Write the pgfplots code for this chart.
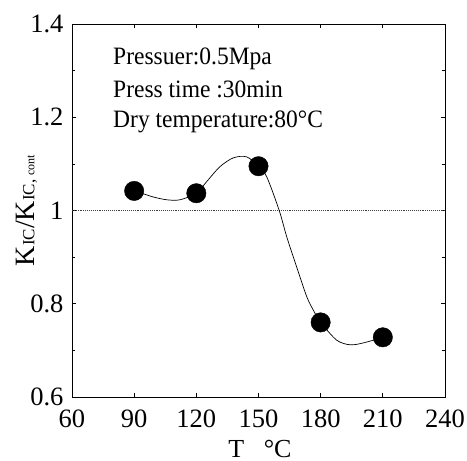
\documentclass[border=0pt]{standalone}
\usepackage{fontspec}
\setmainfont{Liberation Serif}
\newfontfamily\notefont{Liberation Serif}[FakeStretch=0.94]
\usepackage{pgfplots}
\pgfplotsset{compat=1.18}

\pgfplotstableread{
T    r
90   1.042
120  1.037
150  1.095
180  0.760
210  0.728
}\points

% curve
\pgfplotstableread{
T      r
90     1.042
95     1.035
99.2   1.029
105.7  1.023
112.1  1.023
120    1.037
125    1.062
131.4  1.094
137.9  1.113
144.3  1.115
150    1.095
154    1.072
160    1.000
163.6  0.944
168.4  0.879
173.3  0.815
176.5  0.786
180    0.760
187.7  0.722
194.2  0.712
200.6  0.716
210    0.728
}\curve

\begin{document}
\begin{tikzpicture}
\useasboundingbox (-72pt,-64pt) rectangle (395pt,397pt);
\begin{axis}[
    at={(0,0)}, anchor=south west,
    scale only axis,
    width=373pt, height=373pt,
    xmin=60, xmax=240, ymin=0.6, ymax=1.4,
    xtick={60,90,...,240},
    ytick={0.6,0.8,...,1.4},
    yticklabels={0.6,0.8,1,1.2,1.4},
    minor y tick num=1,
    tick align=inside,
    major tick length=4pt, minor tick length=3pt,
    axis line style={line width=0.9pt},
    tick style={line width=0.7pt, black},
    ticklabel style={font=\fontsize{26.5}{28}\selectfont},
    /pgf/number format/assume math mode=true,
    xticklabel style={yshift=-9pt},
    yticklabel style={xshift=-5pt},
    xlabel={T\ \ \ °C},
    xlabel style={font=\fontsize{26}{28}\selectfont, at={(axis description cs:0.504,-0.1635)}, anchor=base},
    ylabel={K{\fontsize{17}{17}\selectfont IC}/K{\fontsize{17}{17}\selectfont IC, }{\fontsize{12}{12}\selectfont cont}},
    ylabel style={font=\fontsize{28}{30}\selectfont, at={(axis description cs:-0.122,0.5)}, anchor=center},
]
\addplot [densely dotted, line width=0.9pt, black!75] coordinates {(60,1) (240,1)};
\addplot [smooth, tension=0.5, line width=0.7pt, black] table [x=T, y=r] {\curve};
\addplot [only marks, mark=*, mark size=9.7pt, black] table [x=T, y=r] {\points};
\node [anchor=base west, inner sep=0, font=\notefont\fontsize{25}{26}\selectfont] at (axis cs:79.8,1.314) {Pressuer:0.5Mpa};
\node [anchor=base west, inner sep=0, font=\notefont\fontsize{25}{26}\selectfont] at (axis cs:79.8,1.243) {Press time :30min};
\node [anchor=base west, inner sep=0, font=\notefont\fontsize{25}{26}\selectfont] at (axis cs:79.8,1.177) {Dry temperature:80°C};
\end{axis}
\end{tikzpicture}
\end{document}
